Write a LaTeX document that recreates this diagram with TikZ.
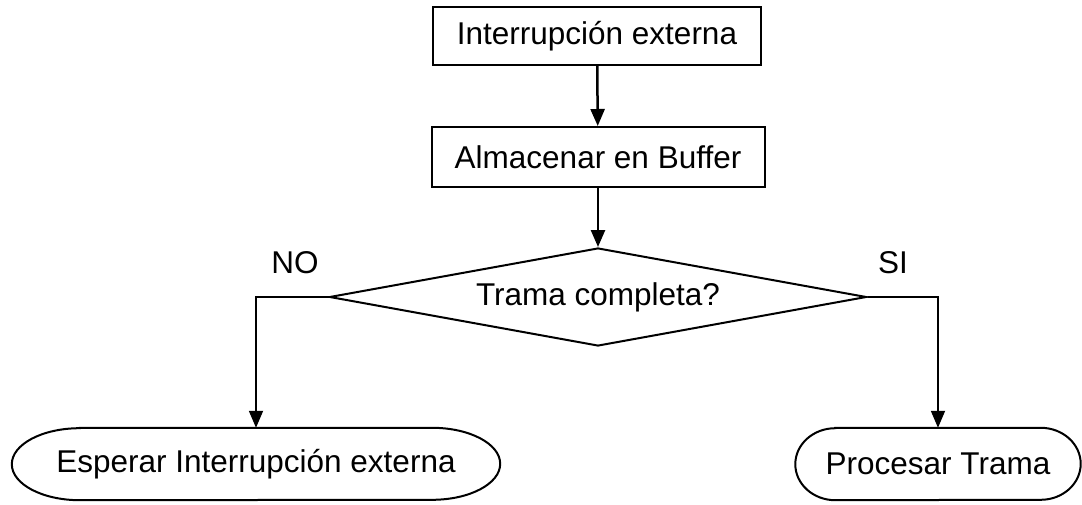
\documentclass[tikz,border=0pt]{standalone}
\usepackage{fontspec}
\setmainfont[Ligatures=NoCommon]{Liberation Sans}
\usetikzlibrary{shapes.geometric,arrows.meta}

\tikzset{
  box/.style={draw, line width=2pt, inner sep=0pt},
  decision/.style={diamond, draw, line width=2pt, inner sep=0pt, aspect=5.5},
  arr/.style={line width=2.5pt, -{Triangle[length=17pt,width=14pt]}},
  elbow/.style={line width=1.8pt, -{Triangle[length=17pt,width=14pt]}}
}

\begin{document}
\begin{tikzpicture}[x=1pt,y=1pt]
  \fontsize{31.5}{36}\selectfont
  \useasboundingbox (0,0) rectangle (1082,504);

  \node[box, minimum width=328pt, minimum height=58pt] (intr) at (597,468) {Interrupción externa};
  \node[box, minimum width=333pt, minimum height=60pt] (alm) at (598,347) {Almacenar en Buffer};
  \node[decision, minimum width=537pt, minimum height=98pt] (trama) at (598,207) {Trama completa?};

  %% terminals
  \node[inner sep=0pt, minimum width=488pt, minimum height=72pt] (esperar) at (256,40) {Esperar Interrupción externa};
  \node[inner sep=0pt, minimum width=285pt, minimum height=72pt] (procesar) at (938,40) {Procesar Trama};
  \draw[line width=2pt] ([xshift=68pt]esperar.north west) -- ([xshift=-68pt]esperar.north east)
    arc[start angle=90, end angle=-90, x radius=68pt, y radius=36pt]
    -- ([xshift=68pt]esperar.south west)
    arc[start angle=270, end angle=90, x radius=68pt, y radius=36pt] -- cycle;
  \draw[line width=2pt] ([xshift=40pt]procesar.north west) -- ([xshift=-40pt]procesar.north east)
    arc[start angle=90, end angle=-90, x radius=40pt, y radius=36pt]
    -- ([xshift=40pt]procesar.south west)
    arc[start angle=270, end angle=90, x radius=40pt, y radius=36pt] -- cycle;

  %% flow
  \draw[arr] (intr) -- (alm);
  \draw[arr] (alm) -- (trama);
  \draw[elbow] (trama.west) -| (esperar.north);
  \draw[elbow] (trama.east) -| (procesar.north);

  %% NO / SI
  \node (nolbl) at (295,241) {NO};
  \node (silbl) at (893,241) {SI};

\end{tikzpicture}
\end{document}
